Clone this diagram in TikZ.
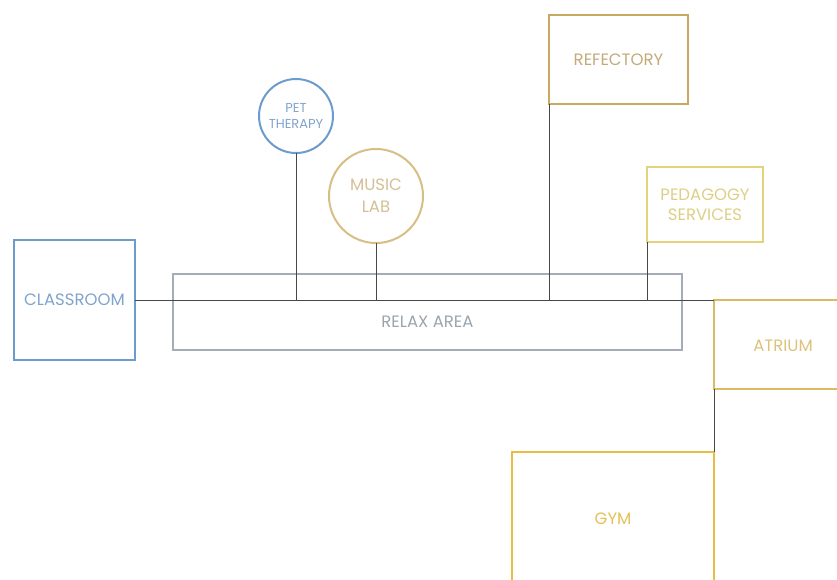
\documentclass[tikz,border=0pt]{standalone}
\usepackage{fontspec}
\setmainfont{Poppins}
\begin{document}
\begin{tikzpicture}[x=1pt,y=-1pt,
  room/.style={draw, line width=2pt, inner sep=0pt, outer sep=0pt, font=\fontsize{16.5}{20}\selectfont, align=center},
  roundroom/.style={circle, draw, line width=2pt, inner sep=0pt, outer sep=0pt, align=center},
  conn/.style={draw=black!72, line width=0.9pt}]
\definecolor{cblue}{HTML}{6C9BD0}
\definecolor{cblueT}{HTML}{7FA4CC}
\definecolor{cgray}{HTML}{A4ADB7}
\definecolor{cgrayT}{HTML}{9BA4AE}
\definecolor{ctan}{HTML}{D6BE85}
\definecolor{ctanT}{HTML}{D3C096}
\definecolor{cbrown}{HTML}{C9A863}
\definecolor{cbrownT}{HTML}{C4AA78}
\definecolor{cyel}{HTML}{E3D37F}
\definecolor{cyelT}{HTML}{DDCF86}
\definecolor{cgold}{HTML}{DABA62}
\definecolor{cgoldT}{HTML}{DCC27A}
\definecolor{cgym}{HTML}{E9BD45}
\definecolor{cgymT}{HTML}{E6C055}
\useasboundingbox (0,0) rectangle (837,579);
\clip (0,0) rectangle (837,579);
\node[room, draw=cblue, text=cblueT, minimum width=121pt, minimum height=120pt] (classroom) at (74.5,300) {CLASSROOM};
\node[room, draw=cgray, minimum width=509pt, minimum height=76pt,
  label={[text=cgrayT, font=\fontsize{16.5}{20}\selectfont, yshift=-10pt]center:RELAX AREA}] (relax) at (427.5,312) {};
\node[roundroom, draw=cblue, text=cblueT, minimum size=74pt, font=\fontsize{13}{16}\selectfont] (pet) at (296,116) {PET\\THERAPY};
\node[roundroom, draw=ctan, text=ctanT, minimum size=94pt, font=\fontsize{16.5}{22}\selectfont] (music) at (376,196) {MUSIC\\LAB};
\node[room, draw=cbrown, text=cbrownT, minimum width=139pt, minimum height=89pt] (refectory) at (618.5,59.5) {REFECTORY};
\node[room, draw=cyel, text=cyelT, minimum width=116pt, minimum height=75pt] (pedagogy) at (705,204.5) {PEDAGOGY\\SERVICES};
\node[room, draw=cgold, minimum width=140pt, minimum height=89pt,
  label={[text=cgoldT, font=\fontsize{16.5}{20}\selectfont, xshift=-1pt, yshift=-1pt]center:ATRIUM}] (atrium) at (784,344.5) {};
\node[room, draw=cgym, minimum width=202pt, minimum height=160pt,
  label={[text=cgymT, font=\fontsize{16.5}{20}\selectfont, yshift=13pt]center:GYM}] (gym) at (613,532) {};
\draw[conn] (classroom.east) -- (classroom.east -| atrium.west);
\draw[conn] (pet.south) -- (pet.south |- classroom.east);
\draw[conn] (music.south) -- (music.south |- classroom.east);
\draw[conn] (refectory.south west) -- (refectory.south west |- classroom.east);
\draw[conn] (pedagogy.south west) -- (pedagogy.south west |- classroom.east);
\draw[conn] (atrium.south west) -- (atrium.south west |- gym.north);
\end{tikzpicture}
\end{document}
